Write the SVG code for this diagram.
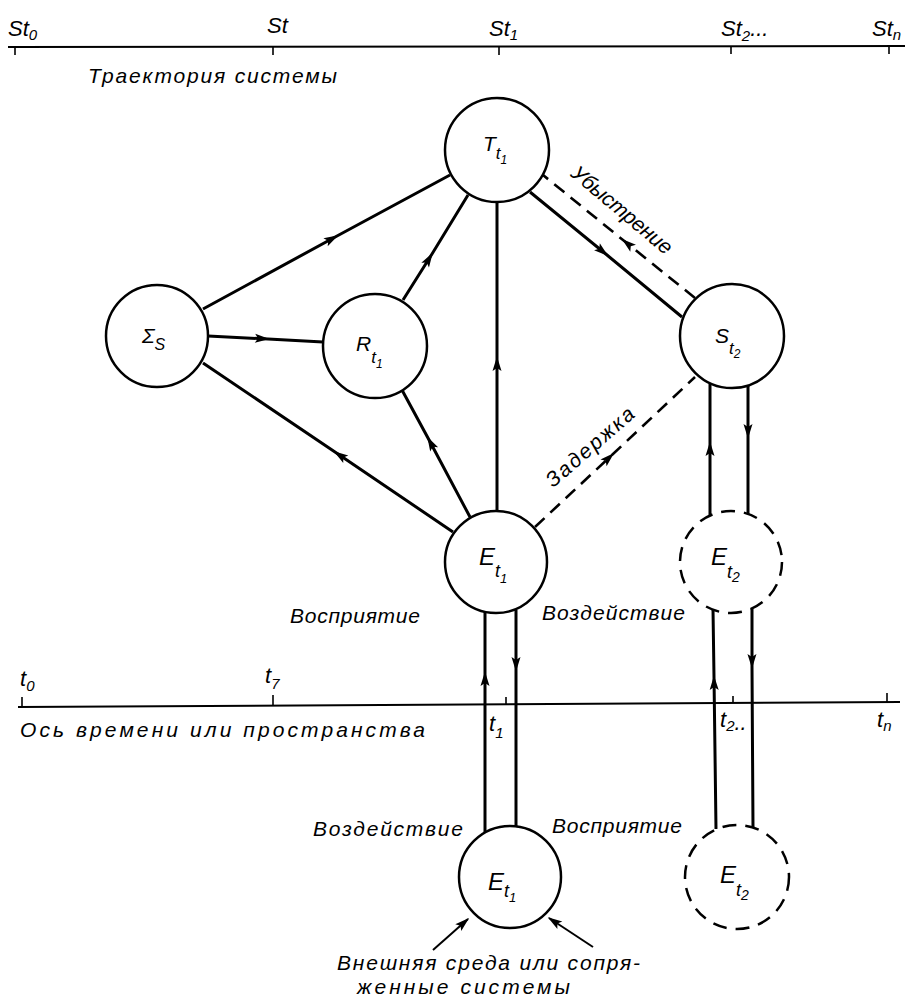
<svg xmlns="http://www.w3.org/2000/svg" width="912" height="1000" viewBox="0 0 912 1000">
<style>
.ln{stroke:#000;stroke-width:3;fill:none;marker-mid:url(#arr)}
.dash{stroke-dasharray:13 8;stroke-width:2.6}
.thin{stroke:#000;stroke-width:2;fill:none;marker-end:url(#arr)}
.ax{stroke:#000;stroke-width:2;fill:none}
.tk{stroke:#000;stroke-width:1.6}
.nd{fill:#fff;stroke:#000;stroke-width:2.5}
.nd.d{stroke-dasharray:14 9}
text{font-family:"Liberation Sans","DejaVu Sans",sans-serif;font-style:italic;fill:#000}
.lb{font-size:21px}
.ax-l{font-size:22px}
.nl{font-size:21px}
.ne{font-size:24px}
</style>
<defs>
<marker id="arr" viewBox="-15 -6 17 12" markerWidth="17" markerHeight="12" refX="0" refY="0" orient="auto" markerUnits="userSpaceOnUse">
<path d="M1.5,0 L-13,-4.5 L-10,0 L-13,4.5 Z" fill="#000"/>
</marker>
</defs>
<rect width="912" height="1000" fill="#fff"/>

<g id="axis-top">
<line class="ax" x1="8" y1="47" x2="905" y2="46"/>
<line class="tk" x1="15" y1="47" x2="15" y2="55"/>
<line class="tk" x1="273" y1="47" x2="273" y2="55"/>
<line class="tk" x1="499" y1="46" x2="499" y2="55"/>
<line class="tk" x1="731" y1="46" x2="731" y2="54"/>
<line class="tk" x1="889" y1="46" x2="889" y2="54"/>
<text class="ax-l" x="8" y="36">St<tspan dy="4" font-size="15">0</tspan></text>
<text class="ax-l" x="267" y="33">St</text>
<text class="ax-l" x="489" y="36">St<tspan dy="4" font-size="15">1</tspan></text>
<text class="ax-l" x="721" y="36">St<tspan dy="5" font-size="15">2</tspan><tspan dy="-5">...</tspan></text>
<text class="ax-l" x="872" y="36">St<tspan dy="4" font-size="15">n</tspan></text>
<text class="lb" x="88" y="83" textLength="249" lengthAdjust="spacing">Траектория системы</text>
</g>

<g id="axis-bottom">
<line class="ax" x1="18" y1="707" x2="900" y2="702"/>
<line class="tk" x1="22" y1="697" x2="22" y2="707"/>
<line class="tk" x1="273" y1="695" x2="273" y2="705"/>
<line class="tk" x1="506" y1="697" x2="506" y2="704"/>
<line class="tk" x1="733" y1="696" x2="733" y2="703"/>
<line class="tk" x1="887" y1="693" x2="887" y2="702"/>
<text class="ax-l" x="20" y="686">t<tspan dy="5" font-size="15">0</tspan></text>
<text class="ax-l" x="265" y="683">t<tspan dy="6" font-size="15">7</tspan></text>
<text class="ax-l" x="489" y="731">t<tspan dy="7" font-size="15">1</tspan></text>
<text class="ax-l" x="720" y="727">t<tspan dy="4" font-size="15">2</tspan><tspan dy="-1">..</tspan></text>
<text class="ax-l" x="877" y="727">t<tspan dy="4" font-size="15">n</tspan></text>
<text class="lb" x="20" y="737" textLength="405" lengthAdjust="spacing">Ось времени или пространства</text>
</g>

<g id="connectors">
<polyline class="ln" points="203,309 337,236 450,175"/>
<polyline class="ln" points="208,336 268,339 323,342"/>
<polyline class="ln" points="453,532 335,452 203,363"/>
<polyline class="ln" points="403,300 432,254 468,195"/>
<polyline class="ln" points="470,517 428,438 402,390"/>
<polyline class="ln" points="497,511 497,358 497,202"/>
<polyline class="ln" points="530,192 607,255 682,317"/>
<polyline class="ln dash" points="695,298 623,240 543,175"/>
<polyline class="ln dash" points="535,527 613,454 695,377"/>
<polyline class="ln" points="710,515 710,443 710,384"/>
<polyline class="ln" points="748,385 748,437 748,514"/>
<polyline class="ln" points="716,829 714,677 713,609"/>
<polyline class="ln" points="752,609 752,667 753,828"/>
<polyline class="ln" points="485,832 485,673 485,612"/>
<polyline class="ln" points="516,610 516,670 516,827"/>
<line class="thin" x1="433" y1="950" x2="468" y2="919"/>
<line class="thin" x1="593" y1="947" x2="549" y2="918"/>
<text class="lb" transform="translate(622,210) rotate(40)" x="0" y="7" text-anchor="middle" textLength="125" lengthAdjust="spacing">Убыстрение</text>
<text class="lb" transform="translate(590,447) rotate(-41)" x="0" y="7" text-anchor="middle" textLength="110" lengthAdjust="spacing">Задержка</text>
<text class="lb" x="290" y="623" textLength="130" lengthAdjust="spacing">Восприятие</text>
<text class="lb" x="542" y="620" textLength="143" lengthAdjust="spacing">Воздействие</text>
<text class="lb" x="313" y="836" textLength="150" lengthAdjust="spacing">Воздействие</text>
<text class="lb" x="552" y="833" textLength="130" lengthAdjust="spacing">Восприятие</text>
<text class="lb" x="337" y="970" textLength="303" lengthAdjust="spacing">Внешняя среда или сопря-</text>
<text class="lb" x="357" y="994" textLength="213" lengthAdjust="spacing">женные  системы</text>
</g>

<g id="node-T">
<circle class="nd" cx="497" cy="150" r="52"/>
<text class="nl" x="483" y="151">T<tspan dy="8" font-size="17">t</tspan><tspan dy="5" font-size="12">1</tspan></text>
</g>
<g id="node-Sigma">
<circle class="nd" cx="157" cy="336" r="51"/>
<text class="nl" x="142" y="343">Σ<tspan dy="7" font-size="16">S</tspan></text>
</g>
<g id="node-R">
<circle class="nd" cx="375" cy="346" r="52"/>
<text class="nl" x="356" y="351">R<tspan dy="12" font-size="17">t</tspan><tspan dy="5" font-size="12">1</tspan></text>
</g>
<g id="node-St2">
<circle class="nd" cx="732" cy="336" r="52"/>
<text class="nl" x="715" y="343">S<tspan dy="11" font-size="17">t</tspan><tspan dy="4" font-size="12">2</tspan></text>
</g>
<g id="node-E1-top">
<circle class="nd" cx="496" cy="562" r="51"/>
<text class="ne" x="479" y="565">E<tspan dy="12" font-size="18">t</tspan><tspan dy="6" font-size="13">1</tspan></text>
</g>
<g id="node-E2-top">
<circle class="nd d" cx="731" cy="562" r="51"/>
<text class="ne" x="711" y="565" font-size="21">E<tspan dy="13" font-size="18">t</tspan><tspan dy="4" font-size="14">2</tspan></text>
</g>
<g id="node-E1-bottom">
<circle class="nd" cx="510" cy="877" r="51"/>
<text class="ne" x="488" y="890">E<tspan dy="7" font-size="18">t</tspan><tspan dy="5" font-size="13">1</tspan></text>
</g>
<g id="node-E2-bottom">
<circle class="nd d" cx="737" cy="877" r="52"/>
<text class="ne" x="720" y="883">E<tspan dy="13" font-size="18">t</tspan><tspan dy="4" font-size="14">2</tspan></text>
</g>
</svg>
